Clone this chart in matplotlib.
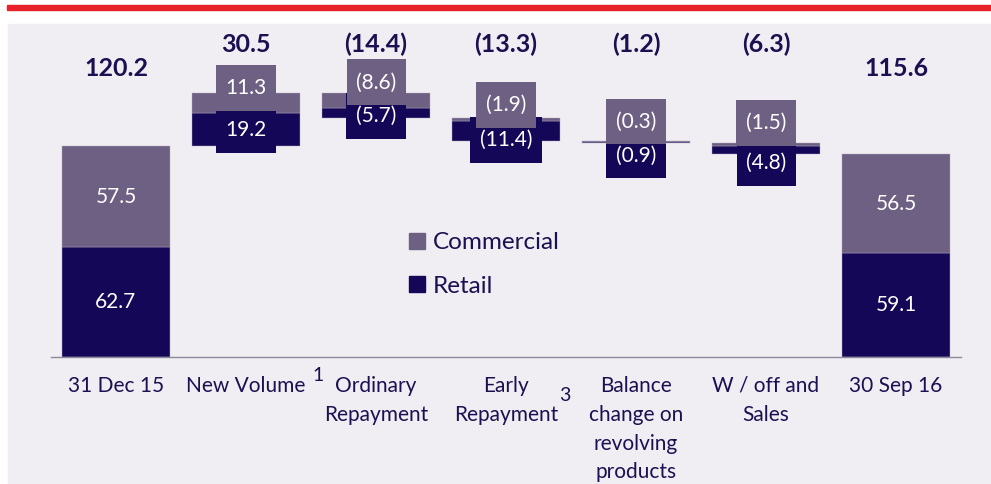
import matplotlib.pyplot as plt
from matplotlib.patches import Rectangle
from matplotlib.lines import Line2D
from matplotlib.path import Path

plt.rcParams['font.family'] = ['Lato', 'DejaVu Sans']

# Data (EUR bn)
categories = ['31 Dec 15', 'New Volume', 'Ordinary\nRepayment', 'Early\nRepayment',
              'Balance\nchange on\nrevolving\nproducts', 'W / off and\nSales', '30 Sep 16']
commercial = [57.5, 11.3, -8.6, -1.9, -0.3, -1.5, 56.5]
retail = [62.7, 19.2, -5.7, -11.4, -0.9, -4.8, 59.1]
totals = [120.2, 30.5, -14.4, -13.3, -1.2, -6.3, 115.6]
footnotes = ['', '1', '', '3', '', '', '']

# Styling
colCom = '#6e6082'
colRet = '#150757'
colText = '#1b1052'
bgPanel = '#f0eef2'
barW = 0.83
fontTick = 15
fontIn = 15
fontTot = 18
fontLeg = 17.5

# label nudges (points) relative to segment middle
comNudge = [0, 10.8, 13, 10.4, 14.4, 15.5, 0]
retNudge = [0, -0.7, -2.2, -6.5, -9.4, -9.4, 0]
noteOffset = {1: (52, -14), 3: (42, -28)}


def fmt(v):
    return '({:.1f})'.format(abs(v)) if v < 0 else '{:.1f}'.format(v)


def labelBox(x0, y0, width, height, mutation_size):
    # rectangle with more padding top/bottom than left/right
    px = 0.45 * mutation_size
    py = 0.62 * mutation_size
    x1, y1 = x0 - px, y0 - py
    x2, y2 = x0 + width + px, y0 + height + py
    return Path([(x1, y1), (x2, y1), (x2, y2), (x1, y2), (x1, y1)], closed=True)


fig = plt.figure(figsize=(9.91, 4.84), dpi=100)
fig.patch.set_facecolor('white')
fig.add_artist(Rectangle((8 / 991, 0), 1, 1 - 24 / 484, transform=fig.transFigure,
                         color=bgPanel, zorder=0))
fig.add_artist(Rectangle((7 / 991, 1 - 10 / 484), 1, 5 / 484, transform=fig.transFigure,
                         color='#e8202a', zorder=0))

ax = fig.add_axes([51 / 991, (484 - 356.5) / 484, 910 / 991, (356.5 - 24) / 484])
ax.set_facecolor('none')

last = len(categories) - 1
level = 0
segs = []
for i in range(len(categories)):
    c, r = commercial[i], retail[i]
    if i == 0 or i == last:
        rBot, cBot = 0, r
        level = c + r
    elif c + r > 0:
        rBot, cBot = level, level + r
        level += c + r
    else:
        cBot = level + c
        rBot = cBot + r
        level += c + r
    ax.bar(i, abs(r), bottom=rBot, width=barW, color=colRet, edgecolor='#b0a8c0', linewidth=0.3, zorder=2)
    ax.bar(i, abs(c), bottom=cBot, width=barW, color=colCom, edgecolor='#b0a8c0', linewidth=0.3, zorder=2)
    segs.append((cBot + abs(c) / 2, rBot + abs(r) / 2))

# inner labels: retail first, commercial on top
for i in range(len(categories)):
    cMid, rMid = segs[i]
    box = dict(boxstyle='square,pad=0.3', fc=colRet, ec='none') if i in (0, last) else \
        dict(boxstyle=labelBox, fc=colRet, ec='none')
    ax.annotate(fmt(retail[i]), (i, rMid), xytext=(0, retNudge[i]), textcoords='offset points',
                ha='center', va='center', color='white', fontsize=fontIn, zorder=3, bbox=box)
for i in range(len(categories)):
    cMid, rMid = segs[i]
    box = dict(boxstyle='square,pad=0.3', fc=colCom, ec='none') if i in (0, last) else \
        dict(boxstyle=labelBox, fc=colCom, ec='none')
    ax.annotate(fmt(commercial[i]), (i, cMid), xytext=(0, comNudge[i]), textcoords='offset points',
                ha='center', va='center', color='white', fontsize=fontIn, zorder=4, bbox=box)

# totals on top
for i, t in enumerate(totals):
    yTop = 164.6 if i in (0, last) else 178.3
    ax.text(i, yTop, fmt(t), ha='center', va='center', fontsize=fontTot,
            fontweight='bold', color=colText)

# footnote marks next to tick labels
for i, n in enumerate(footnotes):
    if n:
        ax.annotate(n, (i, 0), xytext=noteOffset[i], textcoords='offset points',
                    ha='center', va='center', fontsize=14, color=colText, annotation_clip=False)

ax.set_xlim(-0.5, 6.5)
ax.set_ylim(0, (356.5 - 24) / 1.749)
ax.set_xticks(range(len(categories)))
ax.set_xticklabels(categories, fontsize=fontTick, color=colText, linespacing=1.55)
ax.tick_params(axis='x', length=0, pad=14)
ax.set_yticks([])
for s in ['top', 'left', 'right']:
    ax.spines[s].set_visible(False)
ax.spines['bottom'].set_color('#8a8a9a')
ax.spines['bottom'].set_linewidth(1.0)

handles = [Line2D([], [], marker='s', linestyle='none', markersize=11.5, color=colCom),
           Line2D([], [], marker='s', linestyle='none', markersize=11.5, color=colRet)]
fig.legend(handles, ['Commercial', 'Retail'], loc='upper left',
           bbox_to_anchor=(396 / 991, 1 - 220 / 484), frameon=False, fontsize=fontLeg,
           handlelength=0.7, handletextpad=0.3, labelspacing=0.93, borderpad=0,
           labelcolor=colText)

plt.savefig('out.png', dpi=100)
